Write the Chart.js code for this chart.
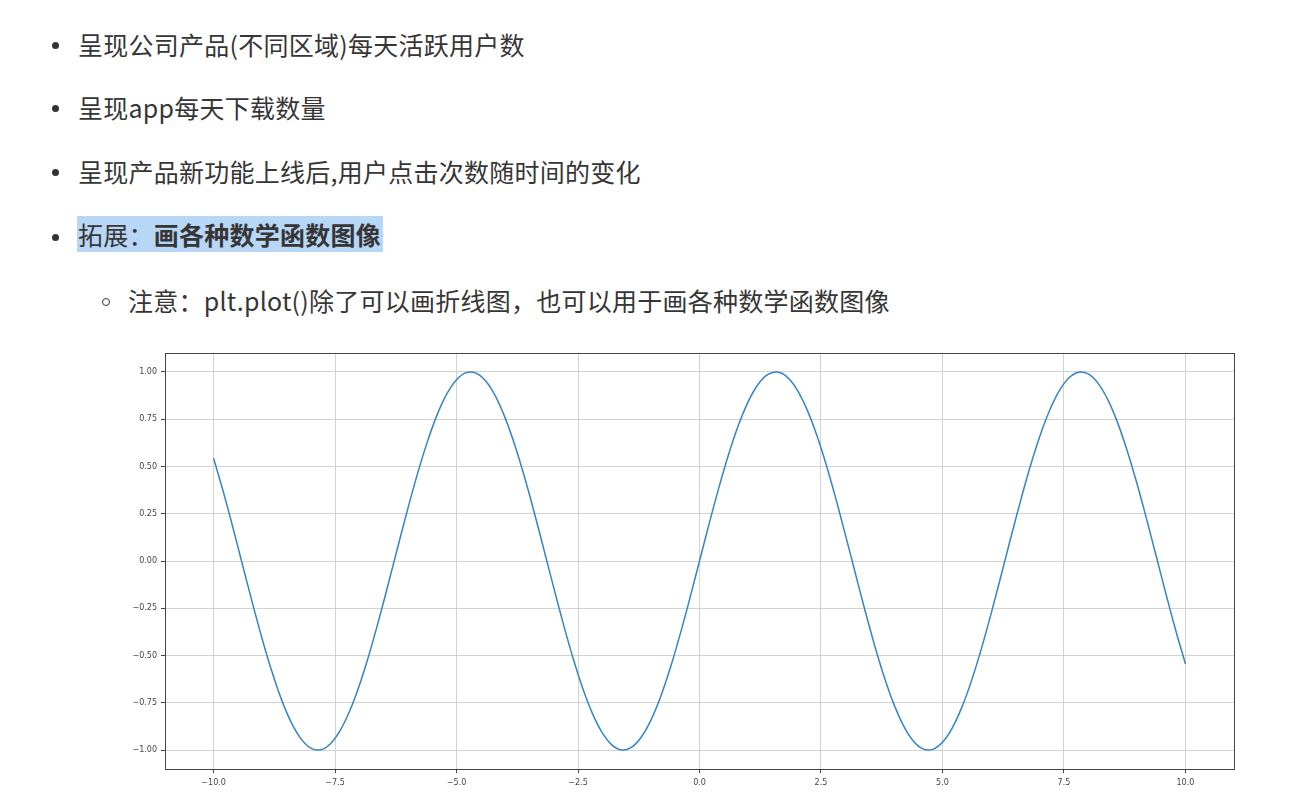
<!DOCTYPE html>
<html>
<head>
<meta charset="utf-8">
<script src="https://cdn.jsdelivr.net/npm/chart.js@4"></script>
<style>
  html, body { margin:0; padding:0; background:#ffffff; }
  body { width:1295px; height:811px; position:relative; overflow:hidden;
         font-family:"Noto Sans CJK SC","Noto Sans",sans-serif; color:#363636; }
  .line { position:absolute; left:78px; font-size:25px; line-height:30px; white-space:nowrap; letter-spacing:0.25px; }
  .dot { position:absolute; width:7px; height:7px; border-radius:50%; background:#333; }
  .ring { position:absolute; width:6px; height:6px; border-radius:50%; border:1.5px solid #333; }
  .hl { background:#b8d7f7; padding:0 2px 0 1px; }
  #wrap { position:absolute; left:120px; top:343px; width:1125px; height:457px; }
</style>
</head>
<body>
<div class="dot" style="left:52px;top:42px"></div>
<div class="line" style="top:29px">呈现公司产品(不同区域)每天活跃用户数</div>
<div class="dot" style="left:52px;top:105px"></div>
<div class="line" style="top:92px">呈现app每天下载数量</div>
<div class="dot" style="left:52px;top:169px"></div>
<div class="line" style="top:156px">呈现产品新功能上线后,用户点击次数随时间的变化</div>
<div class="dot" style="left:52px;top:234px"></div>
<div class="line" style="top:219px;left:77px"><span class="hl">拓展：<b>画各种数学函数图像</b></span></div>
<div class="ring" style="left:102px;top:298px"></div>
<div class="line" style="top:285px;left:128px">注意：plt.plot()除了可以画折线图，也可以用于画各种数学函数图像</div>

<div id="wrap"><canvas id="c" width="1125" height="457"></canvas></div>

<script>
const xValues = [
  -10.0,-9.8,-9.6,-9.4,-9.2,-9.0,-8.8,-8.6,-8.4,-8.2,
  -8.0,-7.8,-7.6,-7.4,-7.2,-7.0,-6.8,-6.6,-6.4,-6.2,
  -6.0,-5.8,-5.6,-5.4,-5.2,-5.0,-4.8,-4.6,-4.4,-4.2,
  -4.0,-3.8,-3.6,-3.4,-3.2,-3.0,-2.8,-2.6,-2.4,-2.2,
  -2.0,-1.8,-1.6,-1.4,-1.2,-1.0,-0.8,-0.6,-0.4,-0.2,
  0.0,0.2,0.4,0.6,0.8,1.0,1.2,1.4,1.6,1.8,
  2.0,2.2,2.4,2.6,2.8,3.0,3.2,3.4,3.6,3.8,
  4.0,4.2,4.4,4.6,4.8,5.0,5.2,5.4,5.6,5.8,
  6.0,6.2,6.4,6.6,6.8,7.0,7.2,7.4,7.6,7.8,
  8.0,8.2,8.4,8.6,8.8,9.0,9.2,9.4,9.6,9.8,
  10.0
];
const yValues = [
  0.5440,0.3665,0.1743,-0.0248,-0.2229,-0.4121,-0.5849,-0.7344,-0.8546,-0.9407,
  -0.9894,-0.9985,-0.9679,-0.8987,-0.7937,-0.6570,-0.4941,-0.3115,-0.1165,0.0831,
  0.2794,0.4646,0.6313,0.7728,0.8835,0.9589,0.9962,0.9937,0.9516,0.8716,
  0.7568,0.6119,0.4425,0.2555,0.0584,-0.1411,-0.3350,-0.5155,-0.6755,-0.8085,
  -0.9093,-0.9738,-0.9996,-0.9854,-0.9320,-0.8415,-0.7174,-0.5646,-0.3894,-0.1987,
  0.0000,0.1987,0.3894,0.5646,0.7174,0.8415,0.9320,0.9854,0.9996,0.9738,
  0.9093,0.8085,0.6755,0.5155,0.3350,0.1411,-0.0584,-0.2555,-0.4425,-0.6119,
  -0.7568,-0.8716,-0.9516,-0.9937,-0.9962,-0.9589,-0.8835,-0.7728,-0.6313,-0.4646,
  -0.2794,-0.0831,0.1165,0.3115,0.4941,0.6570,0.7937,0.8987,0.9679,0.9985,
  0.9894,0.9407,0.8546,0.7344,0.5849,0.4121,0.2229,0.0248,-0.1743,-0.3665,
  -0.5440
];
const xTicks = [-10.0,-7.5,-5.0,-2.5,0.0,2.5,5.0,7.5,10.0];
const yTicks = [-1.00,-0.75,-0.50,-0.25,0.00,0.25,0.50,0.75,1.00];

const fmt = (v, d) => (v < 0 ? '\u2212' : '') + Math.abs(v).toFixed(d);

const framePlugin = {
  id: 'frame',
  afterDraw(chart) {
    const a = chart.chartArea, ctx = chart.ctx;
    ctx.save();
    ctx.strokeStyle = '#444';
    ctx.lineWidth = 1;
    ctx.strokeRect(Math.round(a.left) + 0.5, Math.round(a.top) + 0.5,
                   Math.round(a.right - a.left), Math.round(a.bottom - a.top));
    ctx.restore();
  }
};

new Chart(document.getElementById('c'), {
  type: 'scatter',
  data: {
    datasets: [{
      data: xValues.map((x, i) => ({ x: x, y: yValues[i] })),
      showLine: true,
      borderColor: '#3584c4',
      borderWidth: 1.5,
      pointRadius: 0,
      tension: 0.3,
      fill: false
    }]
  },
  plugins: [framePlugin],
  options: {
    responsive: false,
    animation: false,
    events: [],
    layout: { padding: { top: 10, right: 11, left: 0, bottom: 0 } },
    plugins: { legend: { display: false }, tooltip: { enabled: false } },
    scales: {
      x: {
        type: 'linear', min: -11, max: 11,
        afterBuildTicks: s => { s.ticks = xTicks.map(v => ({ value: v })); },
        afterFit: s => { s.height = 31; },
        ticks: { callback: v => fmt(v, 1), font: { family: 'DejaVu Sans', size: 8 }, color: '#444',
                 padding: 5, maxRotation: 0, autoSkip: false },
        grid: { color: '#d2d2d2', lineWidth: 1, tickColor: '#444', tickLength: 4 },
        border: { display: true, color: '#444' }
      },
      y: {
        type: 'linear', min: -1.1, max: 1.1,
        afterBuildTicks: s => { s.ticks = yTicks.map(v => ({ value: v })); },
        afterFit: s => { s.width = 45; },
        ticks: { callback: v => fmt(v, 2), font: { family: 'DejaVu Sans', size: 8 }, color: '#444',
                 padding: 4, autoSkip: false },
        grid: { color: '#d2d2d2', lineWidth: 1, tickColor: '#444', tickLength: 4 },
        border: { display: true, color: '#444' }
      }
    }
  }
});
</script>
</body>
</html>
